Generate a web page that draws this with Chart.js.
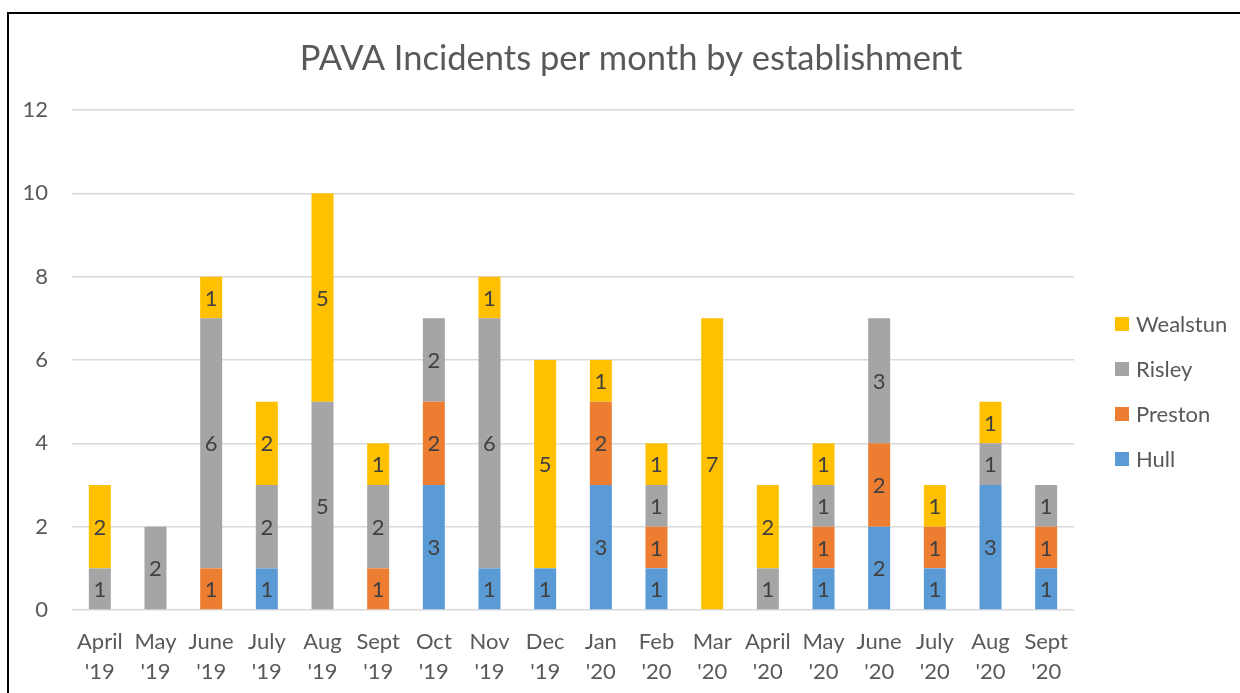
<!DOCTYPE html>
<html>
<head>
<meta charset="utf-8">
<script src="https://cdn.jsdelivr.net/npm/chart.js@4/dist/chart.umd.min.js"></script>
<style>
  html, body { margin: 0; padding: 0; background: #fff; overflow: hidden; }
  #wrap { position: relative; width: 1240px; height: 693px; }
  #frame { position: absolute; left: 7px; top: 12px; width: 1300px; height: 800px; border: 2px solid #000; box-sizing: border-box; pointer-events: none; }
  canvas { position: absolute; left: 0; top: 0; }
</style>
</head>
<body>
<div id="wrap">
  <canvas id="pava" width="1240" height="693"></canvas>
  <div id="frame"></div>
</div>
<script>
'use strict';

const FONT = 'Lato, "Open Sans", sans-serif';
const TEXT = '#595959';

const months = ['April', 'May', 'June', 'July', 'Aug', 'Sept', 'Oct', 'Nov', 'Dec', 'Jan', 'Feb', 'Mar',
  'April', 'May', 'June', 'July', 'Aug', 'Sept'];
const years = ["'19", "'19", "'19", "'19", "'19", "'19", "'19", "'19", "'19", "'20", "'20", "'20",
  "'20", "'20", "'20", "'20", "'20", "'20"];

const hull     = [0, 0, 0, 1, 0, 0, 3, 1, 1, 3, 1, 0, 0, 1, 2, 1, 3, 1];
const preston  = [0, 0, 1, 0, 0, 1, 2, 0, 0, 2, 1, 0, 0, 1, 2, 1, 0, 1];
const risley   = [1, 2, 6, 2, 5, 2, 2, 6, 0, 0, 1, 0, 1, 1, 3, 0, 1, 1];
const wealstun = [2, 0, 1, 2, 5, 1, 0, 1, 5, 1, 1, 7, 2, 1, 0, 1, 1, 0];

const yTicks = [0, 2, 4, 6, 8, 10, 12];

const series = [
  { label: 'Hull', data: hull, color: '#5B9BD5' },
  { label: 'Preston', data: preston, color: '#ED7D31' },
  { label: 'Risley', data: risley, color: '#A5A5A5' },
  { label: 'Wealstun', data: wealstun, color: '#FFC000' }
];

// value labels centred in each stacked segment (zeros skipped, like Excel)
const segmentLabels = {
  id: 'segmentLabels',
  afterDatasetsDraw(chart) {
    const ctx = chart.ctx;
    ctx.save();
    ctx.font = `22px ${FONT}`;
    ctx.fillStyle = '#404040';
    ctx.textAlign = 'center';
    ctx.textBaseline = 'middle';
    chart.data.datasets.forEach((ds, i) => {
      chart.getDatasetMeta(i).data.forEach((bar, j) => {
        const v = ds.data[j];
        if (!v) return;
        ctx.fillText(String(v), bar.x, (bar.y + bar.base) / 2 + 1);
      });
    });
    ctx.restore();
  }
};

// legend as its own layout box on the right, top entry = last series
const sideLegend = {
  id: 'sideLegend',
  start(chart) {
    const box = {
      position: 'right',
      weight: 1000,
      fullSize: false,
      options: {},
      isHorizontal() { return false; },
      update(maxWidth, maxHeight) {
        this.width = 166;
        this.height = maxHeight;
      },
      draw() {
        const ctx = chart.ctx;
        const items = chart.data.datasets.slice().reverse();
        const x = this.left + 41;
        ctx.save();
        ctx.font = `22px ${FONT}`;
        ctx.textBaseline = 'middle';
        ctx.textAlign = 'left';
        items.forEach((ds, k) => {
          const cy = 324 + k * 45;
          ctx.fillStyle = ds.backgroundColor;
          ctx.fillRect(x, cy - 7, 14, 14);
          ctx.fillStyle = TEXT;
          ctx.fillText(ds.label, x + 21, cy + 1);
        });
        ctx.restore();
      }
    };
    Chart.layouts.addBox(chart, box);
  }
};

new Chart(document.getElementById('pava').getContext('2d'), {
  type: 'bar',
  data: {
    labels: months.map((m, i) => [m, years[i]]),
    datasets: series.map((s) => ({
      label: s.label,
      data: s.data,
      backgroundColor: s.color,
      borderWidth: 0,
      categoryPercentage: 1,
      barPercentage: 0.395
    }))
  },
  options: {
    responsive: false,
    animation: false,
    devicePixelRatio: 1,
    layout: { padding: { left: 22, right: 0, top: 38, bottom: 6 } },
    plugins: {
      legend: { display: false },
      tooltip: { enabled: false },
      title: {
        display: true,
        text: 'PAVA Incidents per month by establishment',
        color: TEXT,
        font: { family: FONT, size: 34.5, weight: 'normal', lineHeight: 1.2 },
        padding: { top: 0, bottom: 30.6 }
      }
    },
    scales: {
      x: {
        stacked: true,
        grid: { display: false, drawTicks: false },
        border: { display: false },
        ticks: {
          color: TEXT,
          padding: 17,
          maxRotation: 0,
          autoSkip: false,
          font: { family: FONT, size: 22, lineHeight: 30 / 22 }
        },
        afterFit(scale) { scale.height = 77; }
      },
      y: {
        stacked: true,
        min: 0,
        max: 12,
        afterBuildTicks(scale) { scale.ticks = yTicks.map((v) => ({ value: v })); },
        grid: { color: '#D9D9D9', lineWidth: 1.5, drawTicks: false },
        border: { display: false },
        ticks: {
          color: TEXT,
          padding: 24,
          font: { family: FONT, size: 22 }
        },
        afterFit(scale) { scale.width = 50; }
      }
    }
  },
  plugins: [segmentLabels, sideLegend]
});
</script>
</body>
</html>
